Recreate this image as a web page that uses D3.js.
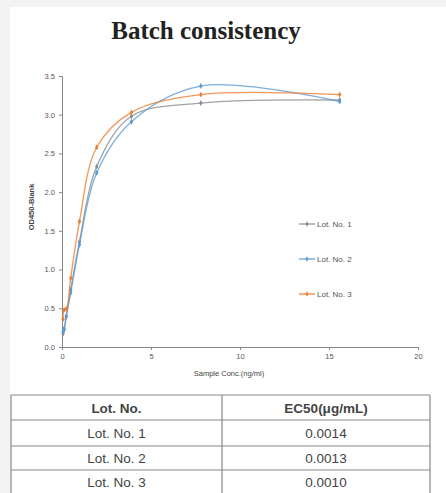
<!DOCTYPE html>
<html>
<head>
<meta charset="utf-8">
<script src="https://cdn.jsdelivr.net/npm/d3@7"></script>
<style>
  body { margin: 0; background: #f3f3f3; }
  svg { display: block; }
</style>
</head>
<body>
<svg></svg>
<script>
let width = 446;
let height = 493;

// data
let conc = [0.06, 0.12, 0.24, 0.49, 0.98, 1.95, 3.9, 7.8, 15.6];
let lot1 = [0.17, 0.22, 0.39, 0.74, 1.36, 2.33, 2.98, 3.15, 3.19];
let lot2 = [0.2, 0.24, 0.4, 0.7, 1.32, 2.25, 2.91, 3.37, 3.17];
let lot3 = [0.36, 0.48, 0.49, 0.89, 1.62, 2.58, 3.03, 3.26, 3.26];
let seriesNames = ["Lot. No. 1", "Lot. No. 2", "Lot. No. 3"];
let seriesColors = ["#8c8c8c", "#5b9bd5", "#ed7d31"];
let yTicks = [0, 0.5, 1, 1.5, 2, 2.5, 3, 3.5];
let xTicks = [0, 5, 10, 15, 20];

let tableHead = ["Lot. No.", "EC50(μg/mL)"];
let tableLots = ["Lot. No. 1", "Lot. No. 2", "Lot. No. 3"];
let tableEc50 = ["0.0014", "0.0013", "0.0010"];

let series = [lot1, lot2, lot3].map((vals, i) => ({
  name: seriesNames[i],
  color: seriesColors[i],
  points: vals.map((v, j) => ({ x: conc[j], y: v }))
}));

let svg = d3.select("svg").attr("width", width).attr("height", height);

// white panel
svg.append("rect")
  .attr("x", 10).attr("y", 7)
  .attr("width", width - 10).attr("height", height - 7)
  .attr("fill", "#fff");

svg.append("text")
  .attr("x", 206).attr("y", 39)
  .attr("text-anchor", "middle")
  .attr("font-family", "Liberation Serif, serif")
  .attr("font-weight", "bold")
  .attr("font-size", 25)
  .attr("fill", "#222")
  .text("Batch consistency");

let xScale = d3.scaleLinear().domain([0, 20]).range([62, 418]);
let yScale = d3.scaleLinear().domain([0, 3.5]).range([347, 76]);

let xAxis = svg.append("g")
  .attr("transform", "translate(0," + yScale(0) + ")")
  .call(d3.axisBottom(xScale).tickValues(xTicks).tickSize(3).tickPadding(4).tickFormat(d3.format("d")));

let yAxis = svg.append("g")
  .attr("transform", "translate(" + xScale(0) + ",0)")
  .call(d3.axisLeft(yScale).tickValues(yTicks).tickSize(3).tickPadding(4).tickFormat(d3.format(".1f")));

[xAxis, yAxis].forEach((g) => {
  g.select(".domain").attr("stroke", "#888");
  g.selectAll(".tick line").attr("stroke", "#888");
  g.selectAll("text")
    .attr("font-family", "Liberation Sans, Arial, sans-serif")
    .attr("font-size", 7.5)
    .attr("fill", "#555");
});

svg.append("text")
  .attr("x", 229).attr("y", 376)
  .attr("text-anchor", "middle")
  .attr("font-family", "Liberation Sans, Arial, sans-serif")
  .attr("font-size", 7.5)
  .attr("fill", "#444")
  .text("Sample Conc.(ng/ml)");

svg.append("text")
  .attr("transform", "translate(34,207) rotate(-90)")
  .attr("text-anchor", "middle")
  .attr("font-family", "Liberation Sans, Arial, sans-serif")
  .attr("font-size", 7.5)
  .attr("font-weight", "bold")
  .attr("fill", "#444")
  .text("OD450-Blank");

let line = d3.line()
  .x((d) => xScale(d.x))
  .y((d) => yScale(d.y))
  .curve(d3.curveCatmullRom.alpha(0.5));

let groups = svg.selectAll(".series")
  .data(series)
  .enter()
  .append("g")
  .attr("class", "series");

groups.append("path")
  .attr("d", (d) => line(d.points))
  .attr("fill", "none")
  .attr("stroke", (d) => d.color)
  .attr("stroke-width", 1.3)
  .attr("opacity", 0.8);

groups.selectAll("path.mark")
  .data((d) => d.points.map((p) => ({ ...p, color: d.color })))
  .enter()
  .append("path")
  .attr("class", "mark")
  .attr("d", d3.symbol(d3.symbolDiamond, 10))
  .attr("transform", (d) => "translate(" + xScale(d.x) + "," + yScale(d.y) + ")")
  .attr("fill", (d) => d.color);

// legend
let legend = svg.append("g")
  .selectAll("g")
  .data(series)
  .enter()
  .append("g")
  .attr("transform", (d, i) => "translate(299," + (224 + i * 35) + ")");

legend.append("line")
  .attr("x1", 0).attr("x2", 16)
  .attr("stroke", (d) => d.color)
  .attr("stroke-width", 1.2);

legend.append("path")
  .attr("d", d3.symbol(d3.symbolDiamond, 8))
  .attr("transform", "translate(8,0)")
  .attr("fill", (d) => d.color);

legend.append("text")
  .attr("x", 18).attr("y", 2.8)
  .attr("font-family", "Liberation Sans, Arial, sans-serif")
  .attr("font-size", 8)
  .attr("fill", "#555")
  .text((d) => d.name);

// table
let tx0 = 11, tx1 = 222, tx2 = 430;
let rowY = [395, 420, 446, 470, 494];
let table = svg.append("g").attr("font-family", "Liberation Sans, Arial, sans-serif");

table.selectAll("line.row")
  .data(rowY)
  .enter()
  .append("line")
  .attr("x1", tx0).attr("x2", tx2)
  .attr("y1", (d) => d).attr("y2", (d) => d)
  .attr("stroke", "#888").attr("stroke-width", 1.2);

[tx0, tx1, tx2].forEach((x) => {
  table.append("line")
    .attr("x1", x).attr("x2", x)
    .attr("y1", rowY[0]).attr("y2", height)
    .attr("stroke", "#888").attr("stroke-width", 1.2);
});

let rows = [tableHead].concat(tableLots.map((l, i) => [l, tableEc50[i]]));
rows.forEach((r, i) => {
  let cy = (rowY[i] + rowY[i + 1]) / 2 + 5;
  [(tx0 + tx1) / 2, (tx1 + tx2) / 2].forEach((cx, j) => {
    table.append("text")
      .attr("x", cx).attr("y", cy)
      .attr("text-anchor", "middle")
      .attr("font-size", 13.5)
      .attr("font-weight", i === 0 ? "bold" : "normal")
      .attr("fill", "#444")
      .text(r[j]);
  });
});
</script>
</body>
</html>
